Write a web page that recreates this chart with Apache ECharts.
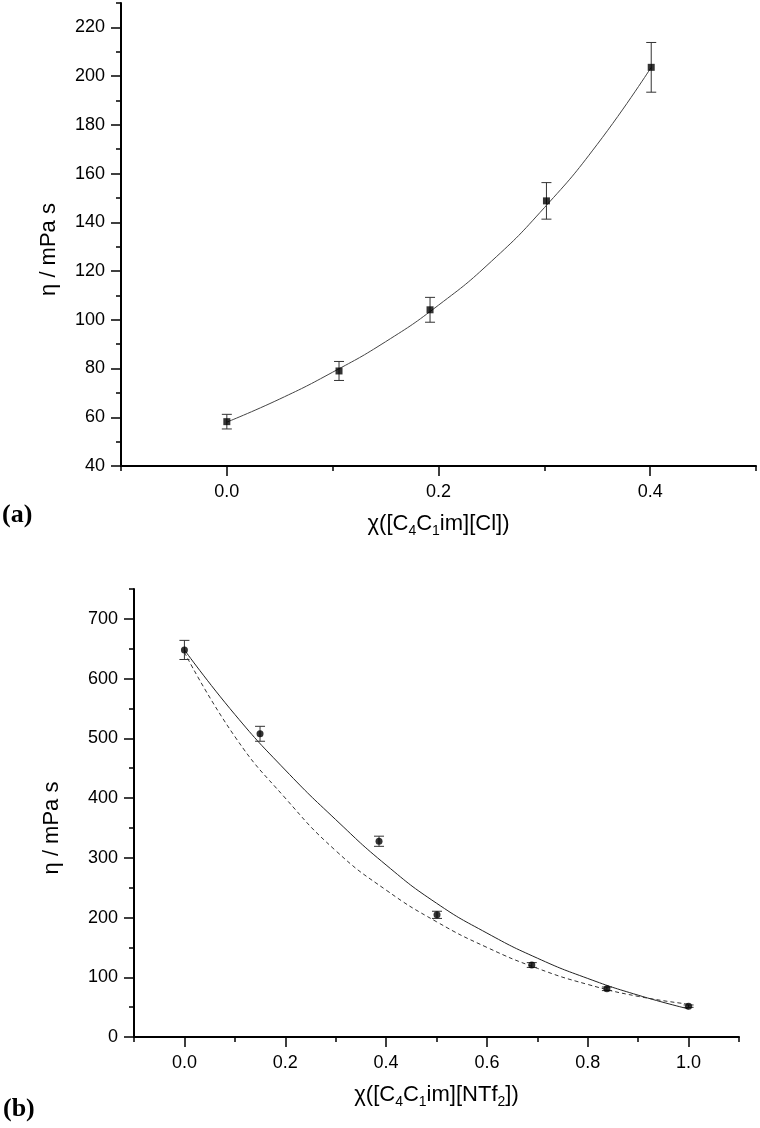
<!DOCTYPE html>
<html>
<head>
<meta charset="utf-8">
<title>viscosity vs mole fraction</title>
<script src="https://cdn.jsdelivr.net/npm/echarts@6/dist/echarts.min.js"></script>
<style>
  html, body { margin: 0; padding: 0; background: #fff; }
  #chart { width: 760px; height: 1128px; }
</style>
</head>
<body>
<div id="chart"></div>
<script>
// ---- panel (a): [C4C1im][Cl] ----
const xA = [0, 0.106, 0.192, 0.302, 0.401]
const etaA = [58.2, 79.0, 104.1, 148.8, 203.6]
const errA = [3.0, 3.9, 5.1, 7.5, 10.2]
// fitted curve
const fitXA = [0, 0.05, 0.1, 0.15, 0.2, 0.25, 0.3, 0.35, 0.401]
const fitYA = [58, 67.5, 78.5, 91, 106, 124, 146, 172, 203.6]
const yTicksA = [40, 60, 80, 100, 120, 140, 160, 180, 200, 220]
const yMinorA = [50, 70, 90, 110, 130, 150, 170, 190, 210, 230]
const xTicksA = [0, 0.2, 0.4]
const xMinorA = [-0.1, 0.1, 0.3, 0.5]

// ---- panel (b): [C4C1im][NTf2] ----
const xB = [0, 0.150, 0.386, 0.501, 0.689, 0.838, 1.0]
const etaB = [648, 507.6, 327.7, 204.5, 120.5, 80.7, 51.6]
const errB = [16, 12.5, 8.5, 6, 4, 3, 2]
const fitXB = [0, 0.1, 0.2, 0.3, 0.4, 0.5, 0.6, 0.7, 0.8, 0.9, 1.0]
const solidB = [648, 540, 447, 364, 288, 224, 174, 132, 98, 70, 47]
const dashedB = [644, 503, 400, 312, 246, 193, 150, 115, 88, 68, 55]
const yTicksB = [0, 100, 200, 300, 400, 500, 600, 700]
const yMinorB = [50, 150, 250, 350, 450, 550, 650, 750]
const xTicksB = [0, 0.2, 0.4, 0.6, 0.8, 1.0]
const xMinorB = [-0.1, 0.1, 0.3, 0.5, 0.7, 0.9, 1.1]

const FONT = 'Liberation Sans'
const zip = (xs, ys) => xs.map((x, i) => [x, ys[i]])

function errorBarItem(params, api) {
  const x = api.value(0)
  const hi = api.coord([x, api.value(2)])
  const lo = api.coord([x, api.value(1)])
  const half = 5
  const style = { stroke: '#333', lineWidth: 1 }
  return {
    type: 'group',
    children: [
      { type: 'line', shape: { x1: hi[0], y1: hi[1], x2: lo[0], y2: lo[1] }, style },
      { type: 'line', shape: { x1: hi[0] - half, y1: hi[1], x2: hi[0] + half, y2: hi[1] }, style },
      { type: 'line', shape: { x1: lo[0] - half, y1: lo[1], x2: lo[0] + half, y2: lo[1] }, style }
    ]
  }
}

function mainX(grid, min, max, ticks, name) {
  return {
    type: 'value', gridIndex: grid, position: 'bottom', min, max,
    name, nameLocation: 'middle', nameGap: 43,
    nameTextStyle: {
      color: '#000', fontFamily: FONT, fontSize: 22,
      rich: {
        n: { fontFamily: FONT, fontSize: 22, color: '#000' },
        s: { fontFamily: FONT, fontSize: 14, color: '#000', padding: [15, 0, 0, 0] }
      }
    },
    axisLine: { onZero: false, lineStyle: { color: '#000', width: 2 } },
    axisTick: { customValues: ticks, length: 10, lineStyle: { color: '#000', width: 1.5 } },
    axisLabel: { customValues: ticks, margin: 17, color: '#000', fontFamily: FONT, fontSize: 18, formatter: v => v.toFixed(1) },
    splitLine: { show: false }
  }
}

function mainY(grid, min, max, ticks, gap) {
  return {
    type: 'value', gridIndex: grid, position: 'left', min, max,
    name: 'η / mPa s', nameLocation: 'middle', nameGap: gap,
    nameTextStyle: { color: '#000', fontFamily: FONT, fontSize: 22, padding: [0, 30, 0, 0] },
    axisLine: { onZero: false, lineStyle: { color: '#000', width: 2 } },
    axisTick: { customValues: ticks, length: 10, lineStyle: { color: '#000', width: 1.5 } },
    axisLabel: { customValues: ticks, margin: 16, color: '#000', fontFamily: FONT, fontSize: 18 },
    splitLine: { show: false }
  }
}

// overlay axis that only draws the short minor ticks
function minorAxis(grid, pos, min, max, ticks) {
  return {
    type: 'value', gridIndex: grid, position: pos, min, max, offset: 0,
    axisLine: { show: false, onZero: false },
    axisTick: { show: true, customValues: ticks, length: 5, lineStyle: { color: '#000', width: 1.5 } },
    axisLabel: { show: false },
    splitLine: { show: false }
  }
}

const chart = echarts.init(document.getElementById('chart'))

chart.setOption({
  animation: false,
  backgroundColor: '#fff',
  grid: [
    { left: 121, top: 3, width: 635, height: 463 },
    { left: 134, top: 589, width: 605, height: 448 }
  ],
  xAxis: [
    mainX(0, -0.1, 0.5, xTicksA, '{n|χ([C}{s|4}{n|C}{s|1}{n|im][Cl])}'),
    minorAxis(0, 'bottom', -0.1, 0.5, xMinorA),
    mainX(1, -0.1, 1.1, xTicksB, '{n|χ([C}{s|4}{n|C}{s|1}{n|im][NTf}{s|2}{n|])}'),
    minorAxis(1, 'bottom', -0.1, 1.1, xMinorB)
  ],
  yAxis: [
    mainY(0, 40, 230, yTicksA, 61),
    minorAxis(0, 'left', 40, 230, yMinorA),
    mainY(1, 0, 750, yTicksB, 71),
    minorAxis(1, 'left', 0, 750, yMinorB)
  ],
  graphic: [
    { type: 'text', left: 2, top: 502, style: { text: '(a)', font: 'bold 26px "Liberation Serif"', fill: '#000' } },
    { type: 'text', left: 3, top: 1096, style: { text: '(b)', font: 'bold 26px "Liberation Serif"', fill: '#000' } }
  ],
  series: [
    // panel (a)
    {
      type: 'line', xAxisIndex: 0, yAxisIndex: 0, data: zip(fitXA, fitYA),
      smooth: true, showSymbol: false, lineStyle: { color: '#444', width: 1 }
    },
    {
      type: 'custom', xAxisIndex: 0, yAxisIndex: 0, renderItem: errorBarItem,
      encode: { x: 0, y: [1, 2] },
      data: xA.map((x, i) => [x, etaA[i] - errA[i], etaA[i] + errA[i]]), z: 2
    },
    {
      type: 'scatter', xAxisIndex: 0, yAxisIndex: 0, data: zip(xA, etaA),
      symbol: 'rect', symbolSize: 7, itemStyle: { color: '#000' }, z: 3
    },
    // panel (b)
    {
      type: 'line', xAxisIndex: 2, yAxisIndex: 2, data: zip(fitXB, solidB),
      smooth: true, showSymbol: false, lineStyle: { color: '#222', width: 1 }
    },
    {
      type: 'line', xAxisIndex: 2, yAxisIndex: 2, data: zip(fitXB, dashedB),
      smooth: true, showSymbol: false, lineStyle: { color: '#333', width: 1, type: [4, 3] }
    },
    {
      type: 'custom', xAxisIndex: 2, yAxisIndex: 2, renderItem: errorBarItem,
      encode: { x: 0, y: [1, 2] },
      data: xB.map((x, i) => [x, etaB[i] - errB[i], etaB[i] + errB[i]]), z: 2
    },
    {
      type: 'scatter', xAxisIndex: 2, yAxisIndex: 2, data: zip(xB, etaB),
      symbol: 'circle', symbolSize: 7, itemStyle: { color: '#000' }, z: 3
    }
  ]
})
</script>
</body>
</html>
